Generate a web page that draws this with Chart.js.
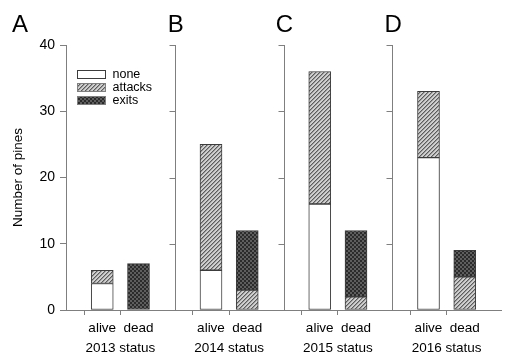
<!DOCTYPE html>
<html>
<head>
<meta charset="utf-8">
<script src="https://cdn.jsdelivr.net/npm/chart.js@4.4.0/dist/chart.umd.min.js"></script>
<style>
html,body{margin:0;padding:0;background:#fff;}
#wrap{width:506px;height:352px;position:relative;}
</style>
</head>
<body>
<div id="wrap"><canvas id="c" width="506" height="352"></canvas></div>
<script>
// ---- data ----
const years = ['2013', '2014', '2015', '2016'];
const statuses = ['alive', 'dead'];
const panelLetters = ['A', 'B', 'C', 'D'];
const seriesNames = ['none', 'attacks', 'exits'];
const noneAlive = [4, 6, 16, 23];
const noneDead = [0, 0, 0, 0];
const attacksAlive = [2, 19, 20, 10];
const attacksDead = [0, 3, 2, 5];
const exitsAlive = [0, 0, 0, 0];
const exitsDead = [7, 9, 10, 4];
const yTicks = [0, 10, 20, 30, 40];

// ---- build library tables ----
const labels = [];
years.forEach(() => { labels.push(''); statuses.forEach(s => labels.push(s)); });
labels.push('');
function series(alive, dead) {
  const out = [];
  for (let i = 0; i < years.length; i++) {
    out.push(null, alive[i] || null, dead[i] || null);
  }
  out.push(null);
  return out;
}

const axisColor = '#7f7f7f';
const barBorder = '#3c3c3c';
const FONT = "'Liberation Sans', Arial, sans-serif";
Chart.defaults.font.family = FONT;
Chart.defaults.color = '#000';

function makePattern(size, fn) {
  const c = document.createElement('canvas');
  c.width = size; c.height = size;
  const g = c.getContext('2d');
  for (let x = 0; x < size; x++) for (let y = 0; y < size; y++) {
    g.fillStyle = fn(x, y);
    g.fillRect(x, y, 1, 1);
  }
  return g.createPattern(c, 'repeat');
}
const hatch = makePattern(4, (x, y) => {
  const k = (x + y) % 4;
  return k === 3 ? '#5c5c5c' : (k === 0 ? '#9a9a9a' : '#cfcfcf');
});
const cross = makePattern(4, (x, y) => {
  return ((Math.floor(x / 2) + Math.floor(y / 2)) % 2) ? '#5e5e5e' : '#2b2b2b';
});

const panelPlugin = {
  id: 'panels',
  afterDraw(chart) {
    const ctx = chart.ctx;
    const xs = chart.scales.x, ys = chart.scales.y, ca = chart.chartArea;
    ctx.save();
    ctx.strokeStyle = axisColor;
    ctx.lineWidth = 1;
    for (let p = 1; p < years.length; p++) {
      const px = Math.round(xs.getPixelForValue(p * 3)) + 0.5;
      ctx.beginPath();
      ctx.moveTo(px, ca.top);
      ctx.lineTo(px, ca.bottom);
      yTicks.forEach(v => {
        const py = Math.round(ys.getPixelForValue(v)) + 0.5;
        ctx.moveTo(px - 6, py);
        ctx.lineTo(px, py);
      });
      ctx.stroke();
    }
    // panel letters
    ctx.fillStyle = '#000';
    ctx.font = '24px ' + FONT;
    ctx.textBaseline = 'alphabetic';
    for (let p = 0; p < years.length; p++) {
      if (p === 0) {
        ctx.textAlign = 'left';
        ctx.fillText(panelLetters[p], 12, 32);
      } else {
        ctx.textAlign = 'center';
        ctx.fillText(panelLetters[p], xs.getPixelForValue(p * 3) + 1, 32);
      }
    }
    // legend
    const lx = ca.left + 11.5, ly0 = 70.5;
    ctx.font = '12.5px ' + FONT;
    ctx.textAlign = 'left';
    ctx.textBaseline = 'middle';
    chart.data.datasets.forEach((ds, i) => {
      const ly = ly0 + i * 13;
      ctx.fillStyle = ds.backgroundColor;
      ctx.fillRect(lx, ly, 28, 8);
      ctx.strokeStyle = i === 0 ? barBorder : '#808080';
      ctx.strokeRect(lx, ly, 28, 8);
      ctx.fillStyle = '#000';
      ctx.fillText(ds.label, lx + 35, ly + 4.5);
    });
    ctx.restore();
  }
};

new Chart(document.getElementById('c'), {
  type: 'bar',
  data: {
    labels: labels,
    datasets: [
      { label: seriesNames[0], data: series(noneAlive, noneDead), backgroundColor: '#ffffff' },
      { label: seriesNames[1], data: series(attacksAlive, attacksDead), backgroundColor: hatch },
      { label: seriesNames[2], data: series(exitsAlive, exitsDead), backgroundColor: cross }
    ]
  },
  options: {
    responsive: false,
    animation: false,
    devicePixelRatio: 1,
    layout: { padding: { top: 45, left: 0, right: 0, bottom: 0 } },
    datasets: { bar: { barThickness: 22, borderWidth: 1, borderColor: barBorder, borderSkipped: false } },
    plugins: { legend: { display: false }, tooltip: { enabled: false } },
    scales: {
      x: {
        type: 'category',
        stacked: true,
        offset: false,
        weight: 0,
        grid: {
          display: true, drawOnChartArea: false, tickLength: 5,
          color: c => (labels[c.index] === '' ? 'rgba(0,0,0,0)' : axisColor)
        },
        border: { display: true, color: axisColor },
        ticks: { font: { size: 13.5 }, padding: 5, autoSkip: false, maxRotation: 0 },
        afterFit: s => { s.height = 24; }
      },
      x2: {
        type: 'linear',
        position: 'bottom',
        min: 0, max: 12,
        offset: false,
        weight: 1,
        grid: { display: false, drawTicks: false, tickLength: 0 },
        border: { display: false },
        afterBuildTicks: s => { s.ticks = years.map((y, i) => ({ value: i * 3 + 1.5 })); },
        ticks: {
          font: { size: 13.5 }, padding: 6, autoSkip: false, maxRotation: 0,
          callback: (v, i) => years[i] + ' status'
        },
        afterFit: s => { s.height = 18; }
      },
      y: {
        stacked: true,
        min: 0, max: 40,
        ticks: { stepSize: 10, font: { size: 14 }, padding: 5 },
        grid: { display: true, drawOnChartArea: false, tickLength: 6, color: axisColor },
        border: { display: true, color: axisColor },
        title: { display: true, text: 'Number of pines', font: { size: 13.5 }, padding: { top: 10, bottom: 0 } },
        afterFit: s => { s.width = 66; }
      }
    }
  },
  plugins: [panelPlugin]
});
</script>
</body>
</html>
